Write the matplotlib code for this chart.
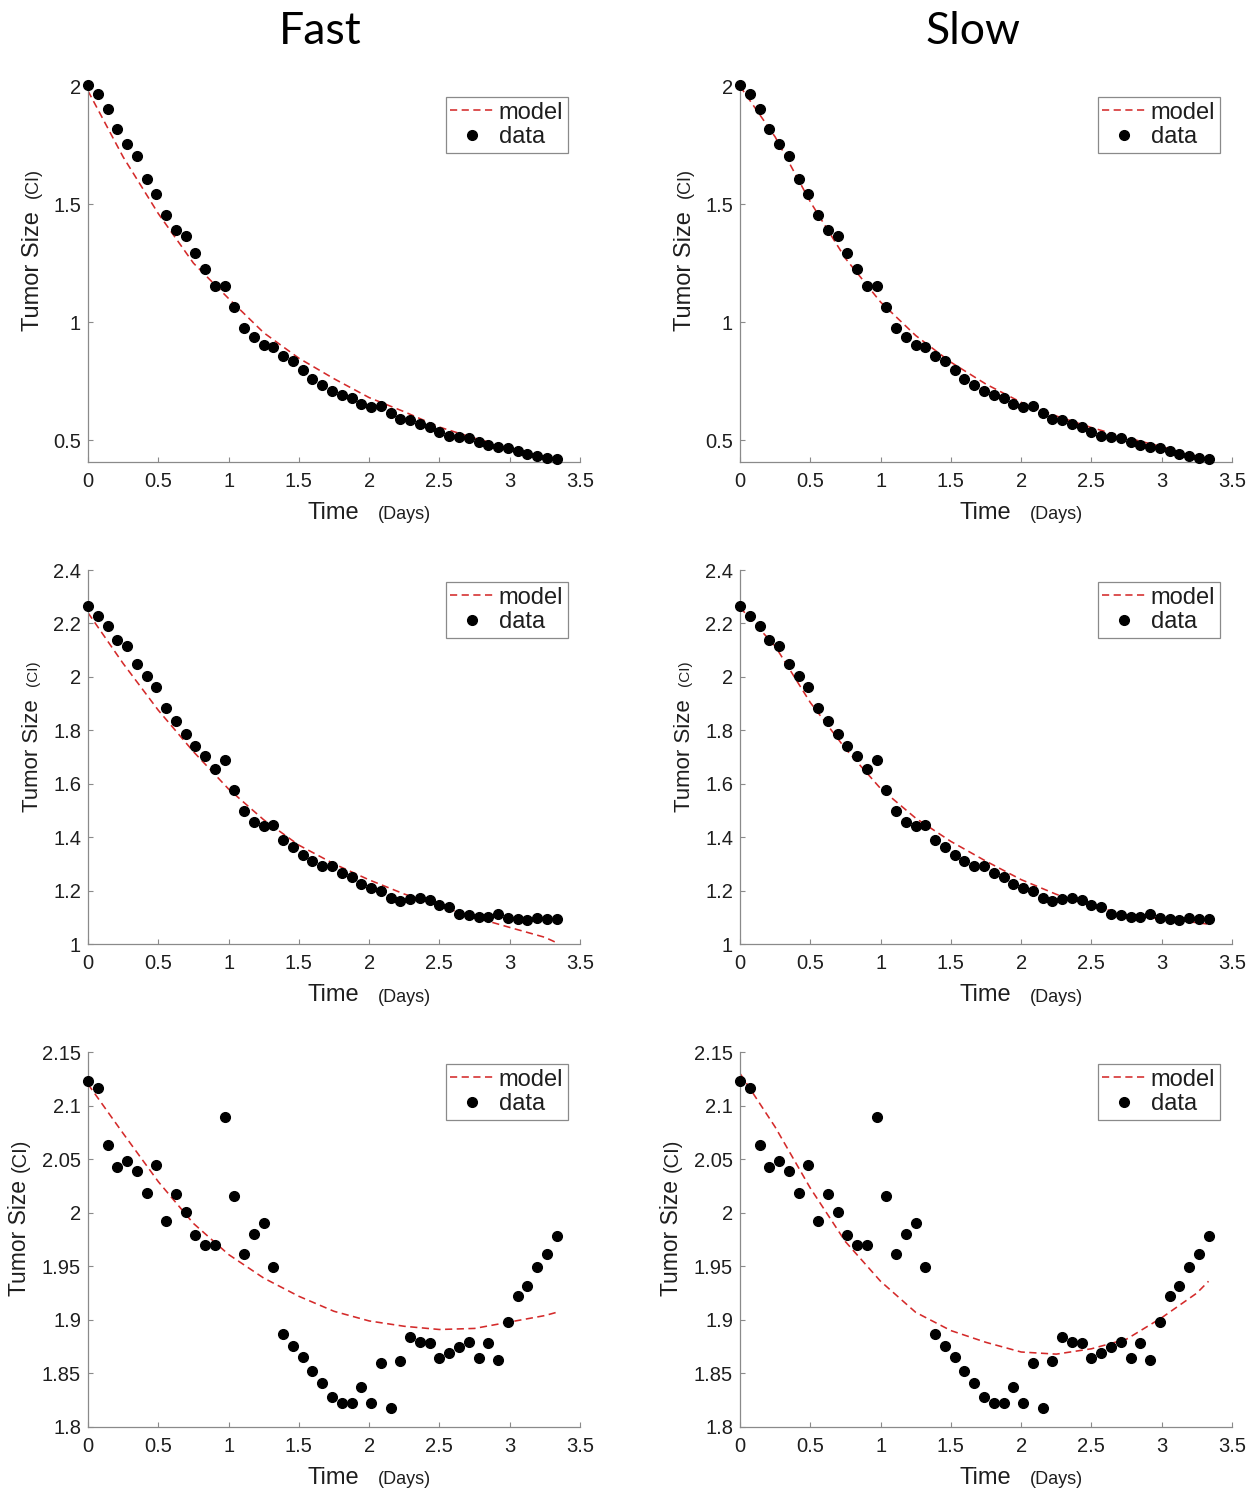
import matplotlib
matplotlib.use('Agg')
import matplotlib.pyplot as plt

# ---------------- data ----------------
t_data = [0.000, 0.069, 0.139, 0.208, 0.278, 0.347, 0.417, 0.486, 0.556, 0.625,
          0.694, 0.764, 0.833, 0.903, 0.972, 1.042, 1.111, 1.181, 1.250, 1.319,
          1.389, 1.458, 1.528, 1.597, 1.667, 1.736, 1.806, 1.875, 1.944, 2.014,
          2.083, 2.153, 2.222, 2.292, 2.361, 2.431, 2.500, 2.569, 2.639, 2.708,
          2.778, 2.847, 2.917, 2.986, 3.056, 3.125, 3.194, 3.264, 3.333]

size_row1 = [2.003, 1.967, 1.904, 1.820, 1.757, 1.703, 1.607, 1.543, 1.455, 1.391,
             1.363, 1.292, 1.226, 1.154, 1.154, 1.062, 0.975, 0.936, 0.902, 0.893,
             0.857, 0.833, 0.796, 0.758, 0.733, 0.708, 0.691, 0.677, 0.653, 0.639,
             0.644, 0.613, 0.588, 0.585, 0.568, 0.557, 0.533, 0.518, 0.514, 0.507,
             0.490, 0.480, 0.472, 0.465, 0.453, 0.443, 0.433, 0.426, 0.418]

size_row2 = [2.267, 2.226, 2.189, 2.139, 2.115, 2.050, 2.003, 1.962, 1.883, 1.835,
             1.786, 1.743, 1.703, 1.654, 1.687, 1.575, 1.498, 1.456, 1.443, 1.446,
             1.389, 1.363, 1.334, 1.312, 1.293, 1.292, 1.266, 1.251, 1.225, 1.211,
             1.198, 1.171, 1.161, 1.167, 1.173, 1.163, 1.146, 1.140, 1.114, 1.108,
             1.102, 1.102, 1.111, 1.099, 1.093, 1.090, 1.097, 1.093, 1.093]

size_row3 = [2.1228, 2.1166, 2.0633, 2.0429, 2.0485, 2.0385, 2.0181, 2.0441, 1.9927, 2.0175,
             2.0007, 1.9791, 1.9698, 1.9698, 2.0897, 2.0153, 1.9611, 1.9797, 1.9908, 1.9496,
             1.8864, 1.8759, 1.8657, 1.8527, 1.8412, 1.8279, 1.8226, 1.8226, 1.8372, 1.8226,
             1.8601, 1.8177, 1.8620, 1.8836, 1.8790, 1.8787, 1.8641, 1.8688, 1.8750, 1.8796,
             1.8641, 1.8781, 1.8626, 1.8976, 1.9224, 1.9317, 1.9493, 1.9617, 1.9781]

t_model = [0.0, 0.25, 0.5, 0.75, 1.0, 1.25, 1.5, 1.75, 2.0, 2.25, 2.5, 2.75, 3.0, 3.25, 3.333]

fast_row1 = [1.98, 1.70, 1.46, 1.25, 1.10, 0.955, 0.847, 0.760, 0.680, 0.620, 0.555, 0.508, 0.467, 0.425, 0.410]
slow_row1 = [2.00, 1.785, 1.51, 1.27, 1.085, 0.943, 0.830, 0.737, 0.660, 0.602, 0.553, 0.510, 0.472, 0.432, 0.415]
fast_row2 = [2.24, 2.05, 1.875, 1.72, 1.58, 1.465, 1.37, 1.30, 1.24, 1.187, 1.142, 1.100, 1.062, 1.025, 1.005]
slow_row2 = [2.26, 2.115, 1.904, 1.731, 1.582, 1.471, 1.384, 1.310, 1.241, 1.186, 1.142, 1.111, 1.093, 1.080, 1.074]
fast_row3 = [2.120, 2.074, 2.029, 1.990, 1.961, 1.939, 1.922, 1.908, 1.899, 1.894, 1.891, 1.892, 1.898, 1.904, 1.907]
slow_row3 = [2.130, 2.080, 2.023, 1.973, 1.936, 1.907, 1.890, 1.879, 1.870, 1.868, 1.873, 1.882, 1.902, 1.925, 1.936]

col_titles = ['Fast', 'Slow']
x_ticks = [0, 0.5, 1, 1.5, 2, 2.5, 3, 3.5]
x_ticklabels = ['0', '0.5', '1', '1.5', '2', '2.5', '3', '3.5']
y_ticks_rows = [[0.5, 1, 1.5, 2],
                [1, 1.2, 1.4, 1.6, 1.8, 2, 2.2, 2.4],
                [1.8, 1.85, 1.9, 1.95, 2, 2.05, 2.1, 2.15]]
y_ticklabels_rows = [['0.5', '1', '1.5', '2'],
                     ['1', '1.2', '1.4', '1.6', '1.8', '2', '2.2', '2.4'],
                     ['1.8', '1.85', '1.9', '1.95', '2', '2.05', '2.1', '2.15']]
y_lims = [(0.407, 2.005), (1.0, 2.4), (1.8, 2.15)]
data_rows = [size_row1, size_row2, size_row3]
model_rows = [[fast_row1, slow_row1], [fast_row2, slow_row2], [fast_row3, slow_row3]]

# ---------------- layout ----------------
W, H = 1260, 1500
plt.rcParams['font.family'] = ['Liberation Sans', 'DejaVu Sans']
fig = plt.figure(figsize=(W / 100, H / 100), dpi=100)
fig.patch.set_facecolor('white')

cols_px = [(88, 580), (740, 1232)]
rows_px = [(85, 462), (570, 944), (1052, 1427)]

RED = '#d42a2a'
SPINE = '#8a8a8a'
TXT = '#1e1e1e'


def ftext(x, y, s, **kw):
    return fig.text(x / W, 1 - y / H, s, **kw)


ylab_x = [[33, 685], [33, 685], [20, 672]]
ylab_main_y = [271, 756, 1238]
ylab_ci_y = [183, 673, 1155]
ylab_main_fs = [17.0, 16.0, 16.5]
ylab_ci_fs = [13.0, 11.0, 14.5]

for r, (top, bot) in enumerate(rows_px):
    for c, (left, right) in enumerate(cols_px):
        ax = fig.add_axes([left / W, 1 - bot / H, (right - left) / W, (bot - top) / H])
        ax.set_facecolor('none')
        lm, = ax.plot(t_model, model_rows[r][c], linestyle='--', color=RED, lw=1.15,
                      dashes=(4.5, 2.8), label='model', zorder=2)
        ld, = ax.plot(t_data, data_rows[r], linestyle='none', marker='o', color='black',
                      markersize=7.0, label='data', clip_on=False, zorder=3)
        ax.set_xlim(0, 3.5)
        ax.set_ylim(*y_lims[r])
        ax.set_xticks(x_ticks)
        ax.set_xticklabels(x_ticklabels)
        ax.set_yticks(y_ticks_rows[r])
        ax.set_yticklabels(y_ticklabels_rows[r])
        for s in ['top', 'right']:
            ax.spines[s].set_visible(False)
        for s in ['left', 'bottom']:
            ax.spines[s].set_color(SPINE)
            ax.spines[s].set_linewidth(0.9)
        ax.tick_params(axis='both', direction='in', length=3.8, width=0.8,
                       color=SPINE, labelcolor=TXT, labelsize=14.5)
        ax.tick_params(axis='x', pad=7.5)
        ax.tick_params(axis='y', pad=5.0)

        leg = ax.legend(handles=[lm, ld], loc='upper right',
                        bbox_to_anchor=(1 - 12 / (right - left), 1 - 12 / (bot - top)),
                        borderaxespad=0, fontsize=17, frameon=True, fancybox=False,
                        framealpha=1, edgecolor=SPINE, handlelength=1.8,
                        handletextpad=0.25, labelspacing=0.1, borderpad=0.2,
                        markerscale=1.0)
        leg.get_frame().set_linewidth(0.9)
        for txt in leg.get_texts():
            txt.set_color(TXT)

        # x label: "Time" + smaller "(Days)"
        ftext(left + 245, bot + 51, 'Time', ha='center', va='center', fontsize=17, color=TXT)
        ftext(left + 316, bot + 53, '(Days)', ha='center', va='center', fontsize=13, color=TXT)

        # y label: "Tumor Size" + smaller "(CI)"
        ftext(ylab_x[r][c], ylab_main_y[r], 'Tumor Size', ha='center', va='center',
              rotation=90, fontsize=ylab_main_fs[r], color=TXT)
        ftext(ylab_x[r][c], ylab_ci_y[r], '(CI)', ha='center', va='center',
              rotation=90, fontsize=ylab_ci_fs[r], color=TXT)

title_x = [320, 973]
for c, ttl in enumerate(col_titles):
    ftext(title_x[c], 32, ttl, ha='center', va='center', fontsize=32,
          family=['Lato', 'DejaVu Sans'], color='black')

fig.savefig('out.png', dpi=100, facecolor='white')
